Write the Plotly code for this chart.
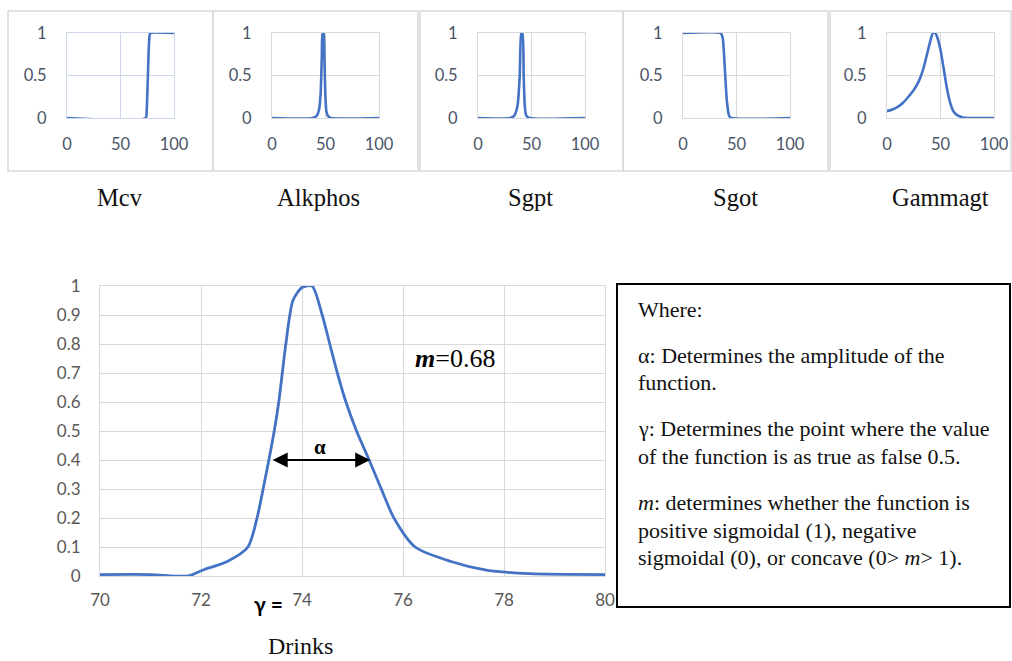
import plotly.graph_objects as go

W, H = 1012, 661

# ---------------- data ----------------
panel_names = ["Mcv", "Alkphos", "Sgpt", "Sgot", "Gammagt"]

mcv_x = [0, 73.5, 74.5, 75.5, 76.5, 77.3, 78, 100]
mcv_y = [0, 0, 0.1, 0.45, 0.85, 0.98, 1, 1]

alk_x = [0, 38, 42, 44, 45.5, 46.5, 47.3, 48.2, 49, 49.8, 50.8, 52.5, 55, 100]
alk_y = [0, 0, 0.03, 0.1, 0.3, 0.7, 1, 1, 0.7, 0.3, 0.08, 0.02, 0, 0]

sgpt_x = [0, 30, 34, 37, 39, 40.5, 41.5, 42.7, 43.7, 45, 48, 100]
sgpt_y = [0, 0, 0.03, 0.15, 0.5, 1, 1, 0.5, 0.15, 0.03, 0, 0]

sgot_x = [0, 35, 37, 39, 41, 43, 45, 100]
sgot_y = [1, 1, 0.95, 0.6, 0.2, 0.03, 0, 0]

gam_x = [0, 5, 10, 15, 20, 25, 30, 34, 38, 41, 43, 45, 47, 50, 53, 56, 59, 62, 66, 70, 75, 100]
gam_y = [0.08, 0.1, 0.13, 0.18, 0.25, 0.33, 0.44, 0.58, 0.78, 0.93, 1, 1, 0.95, 0.8, 0.58,
         0.35, 0.18, 0.08, 0.03, 0.01, 0, 0]

drinks_x = [70, 71, 71.74, 72.03, 72.52, 72.93, 73.11, 73.23, 73.45, 73.54, 73.61, 73.68,
            73.82, 74.0, 74.2, 74.4, 74.55, 74.7, 74.87, 75.08, 75.33, 75.57, 75.82, 76.24,
            76.95, 77.65, 78.5, 80]
drinks_y = [0.005, 0.005, 0.0, 0.02, 0.05, 0.1, 0.2, 0.3, 0.5, 0.6, 0.7, 0.8,
            0.95, 0.995, 1.0, 0.9, 0.8, 0.7, 0.6, 0.5, 0.4, 0.3, 0.2, 0.1,
            0.05, 0.02, 0.008, 0.005]

alpha_from = 73.39
alpha_to = 75.35
alpha_level = 0.4

main_xticks = [70, 72, 74, 76, 78, 80]
main_xlabel = "Drinks"
m_label = "<b><i>m</i></b>=0.68"

box_lines = [
    "Where:",
    "α: Determines the amplitude of the",
    "function.",
    "γ: Determines the point where the value",
    "of the function is as true as false 0.5.",
    "<i>m</i>: determines whether the function is",
    "positive sigmoidal (1), negative",
    "sigmoidal (0), or concave (0> <i>m</i>> 1).",
]

panels_x = [mcv_x, alk_x, sgpt_x, sgot_x, gam_x]
panels_y = [mcv_y, alk_y, sgpt_y, sgot_y, gam_y]

# ---------------- layout helpers ----------------
def px(x):
    return x / W

def py(y):
    return 1 - y / H

BLUE = "#4472C4"
GRID = "#d9d9d9"
TICK = "#595959"
STICK = "#4a5568"
TFONT = "Lato"
SERIF = "Liberation Serif"

fig = go.Figure()
layout = dict(width=W, height=H, margin=dict(l=0, r=0, t=0, b=0, autoexpand=False),
              paper_bgcolor="white", plot_bgcolor="white", showlegend=False)

small_left = [67, 272, 478, 683, 887]
small_w = 107
label_cx = [120, 318, 530, 735, 940]
box_edges = [(8, 213), (213, 418), (420, 623), (623, 828), (830, 1011)]

shapes = []
annotations = []

for i in range(5):
    n = i + 1
    sfx = "" if n == 1 else str(n)
    grid_c = "#cfd8ea" if i == 0 else GRID
    fig.add_trace(go.Scatter(x=panels_x[i], y=panels_y[i], mode="lines",
                             line=dict(color=BLUE, width=2.6, shape="spline", smoothing=0.6),
                             xaxis="x" + sfx, yaxis="y" + sfx, hoverinfo="skip"))
    layout["xaxis" + sfx] = dict(domain=[px(small_left[i]), px(small_left[i] + small_w)],
                                 range=[0, 100], tickvals=[0, 50, 100], showgrid=True,
                                 gridcolor=grid_c, showline=True, linecolor=grid_c, mirror=True,
                                 zeroline=False, automargin=False,
                                 tickfont=dict(family=TFONT, size=16.5, color=STICK), ticks="",
                                 ticklabelstandoff=11, anchor="y" + sfx, fixedrange=True)
    layout["yaxis" + sfx] = dict(domain=[py(118), py(33)], range=[0, 1], tickvals=[0, 0.5, 1],
                                 ticktext=["0", "0.5", "1"], showgrid=True, gridcolor=grid_c,
                                 showline=True, linecolor=grid_c, mirror=True, zeroline=False,
                                 automargin=False,
                                 tickfont=dict(family=TFONT, size=16.5, color=STICK), ticks="",
                                 ticklabelstandoff=16, anchor="x" + sfx, fixedrange=True)
    x0, x1 = box_edges[i]
    shapes.append(dict(type="rect", xref="paper", yref="paper", x0=px(x0), x1=px(x1),
                       y0=py(171), y1=py(11), line=dict(color=GRID, width=1.5)))
    annotations.append(dict(text=panel_names[i], xref="paper", yref="paper",
                            x=px(label_cx[i]), y=py(197), showarrow=False,
                            xanchor="center", yanchor="middle",
                            font=dict(family=SERIF, size=24.5, color="#111")))

# main chart
fig.add_trace(go.Scatter(x=drinks_x, y=drinks_y, mode="lines",
                         line=dict(color=BLUE, width=2.8, shape="spline", smoothing=0.7),
                         xaxis="x6", yaxis="y6", hoverinfo="skip"))
layout["xaxis6"] = dict(domain=[px(100), px(605)], range=[70, 80], tickvals=main_xticks,
                        showgrid=True, gridcolor=GRID, showline=True, linecolor=GRID,
                        mirror=True, zeroline=False, ticks="", automargin=False,
                        tickfont=dict(family=TFONT, size=17, color=TICK),
                        ticklabelstandoff=9, anchor="y6")
layout["yaxis6"] = dict(domain=[py(576), py(286)], range=[0, 1], dtick=0.1, tick0=0,
                        showgrid=True, gridcolor=GRID, showline=True, linecolor=GRID,
                        mirror=True, zeroline=False, ticks="", automargin=False,
                        tickfont=dict(family=TFONT, size=17, color=TICK),
                        ticklabelstandoff=15, anchor="x6")

# alpha arrow
annotations.append(dict(x=alpha_to, y=alpha_level, ax=alpha_from, ay=alpha_level,
                        xref="x6", yref="y6", axref="x6", ayref="y6", text="",
                        showarrow=True, arrowhead=2, startarrowhead=2, arrowside="end+start",
                        arrowsize=1.5, startarrowsize=1.5, arrowwidth=2, arrowcolor="black"))
annotations.append(dict(x=74.35, y=0.445, xref="x6", yref="y6", text="<b>α</b>",
                        showarrow=False, font=dict(family=SERIF, size=21, color="black")))
annotations.append(dict(x=px(455), y=py(358), xref="paper", yref="paper", text=m_label,
                        showarrow=False, xanchor="center", yanchor="middle",
                        font=dict(family=SERIF, size=26, color="black")))
annotations.append(dict(x=px(285), y=py(603), xref="paper", yref="paper", text="<b>γ =</b>",
                        showarrow=False, xanchor="right", yanchor="middle",
                        font=dict(family=TFONT, size=21, color="black")))
annotations.append(dict(x=px(300), y=py(646), xref="paper", yref="paper", text=main_xlabel,
                        showarrow=False, xanchor="center", yanchor="middle", borderpad=0,
                        font=dict(family=SERIF, size=24, color="#111")))

# text box
shapes.append(dict(type="rect", xref="paper", yref="paper", x0=px(617), x1=px(1010),
                   y0=py(607), y1=py(284), line=dict(color="black", width=2)))
line_y = [310, 355, 382, 428, 456, 502, 530, 557]
for t, yy in zip(box_lines, line_y):
    annotations.append(dict(x=px(636), y=py(yy), xref="paper", yref="paper", text=t,
                            showarrow=False, xanchor="left", yanchor="middle",
                            font=dict(family=SERIF, size=22, color="#111")))

layout["shapes"] = shapes
layout["annotations"] = annotations
fig.update_layout(**layout)
fig.write_html("out.html")
